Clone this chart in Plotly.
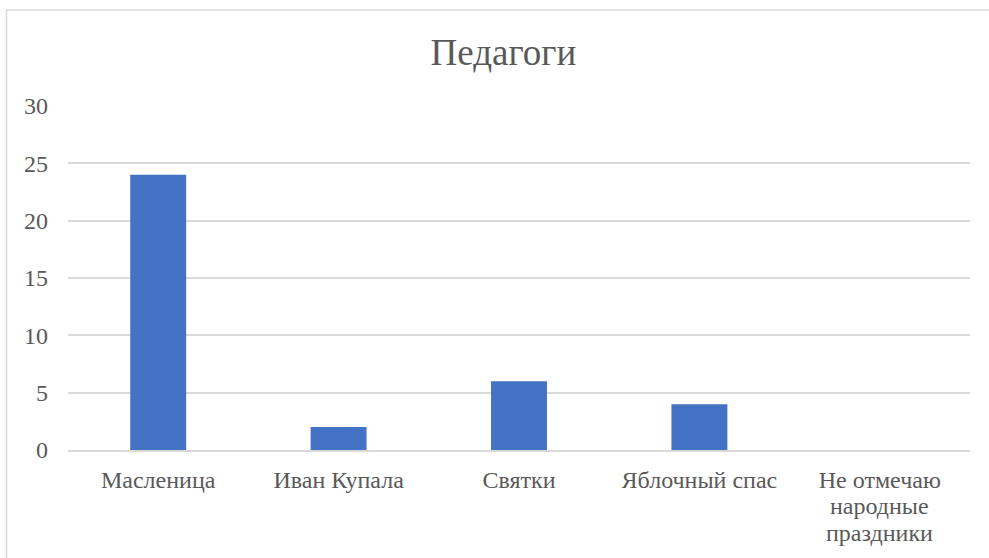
import plotly.graph_objects as go

categories = ["Масленица", "Иван Купала", "Святки", "Яблочный спас", "Не отмечаю народные праздники"]
tick_lines = [["Масленица"], ["Иван Купала"], ["Святки"], ["Яблочный спас"], ["Не отмечаю", "народные", "праздники"]]
values = [24, 2, 6, 4, 0]
y_ticks = [0, 5, 10, 15, 20, 25, 30]

FONT = "Liberation Serif"
GREY = "#595959"
LINE_GAP = 27

fig = go.Figure(go.Bar(x=categories, y=values, marker=dict(color="#4472C4", line=dict(width=0)), width=0.31))

annotations = []
for cat, lines in zip(categories, tick_lines):
    for i, line in enumerate(lines[1:], start=1):
        annotations.append(dict(x=cat, xref="x", y=0, yref="paper", text=line, showarrow=False,
                                yanchor="middle", yshift=-29 - LINE_GAP * i,
                                font=dict(family=FONT, size=24, color=GREY)))

fig.update_layout(
    width=989, height=558,
    margin=dict(l=68, r=19, t=106, b=108),
    paper_bgcolor="white", plot_bgcolor="white",
    showlegend=False,
    title=dict(text="Педагоги", x=0.509, xanchor="center", y=0.907, yanchor="middle",
               font=dict(family=FONT, size=37, color=GREY)),
    font=dict(family=FONT, size=24, color=GREY),
    xaxis=dict(showgrid=False, showline=True, linecolor="#d9d9d9", linewidth=1.5,
               tickmode="array", tickvals=categories, ticktext=[l[0] for l in tick_lines],
               ticks="", tickfont=dict(family=FONT, size=24, color=GREY), ticklabelstandoff=7),
    yaxis=dict(range=[0, 30], tickvals=y_ticks, showgrid=True, gridcolor="#d9d9d9", gridwidth=1.5,
               zeroline=False, showline=False, ticks="", tickfont=dict(family=FONT, size=24, color=GREY),
               ticklabelstandoff=19),
    annotations=annotations,
    shapes=[dict(type="rect", xref="paper", yref="paper",
                 x0=-61.5/902, x1=1.2, y0=-0.5, y1=1 + 96/344,
                 line=dict(color="#d9d9d9", width=1.5), fillcolor="rgba(0,0,0,0)", layer="below")],
)

fig.write_html("out.html", config={"displayModeBar": False},
               post_script="document.body.style.margin='0';document.body.style.padding='0';")
